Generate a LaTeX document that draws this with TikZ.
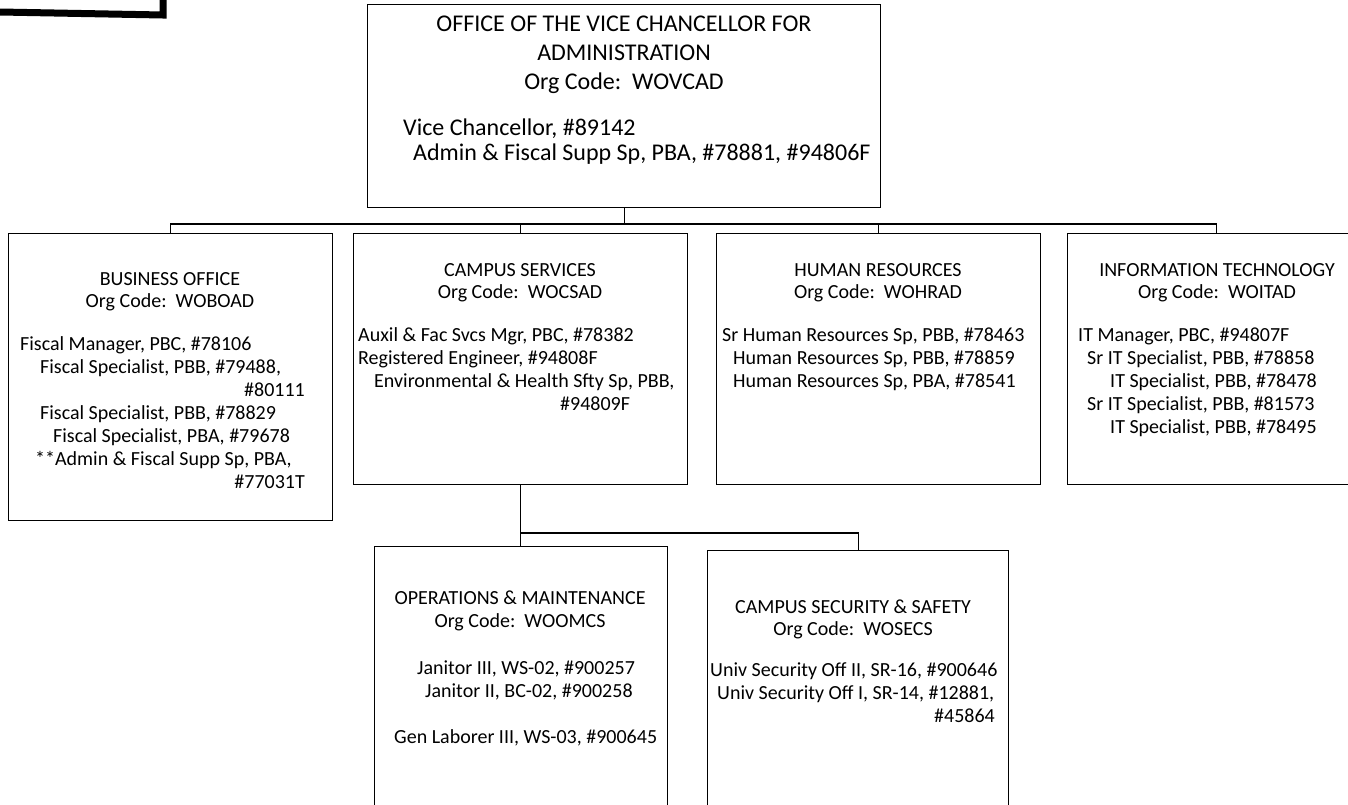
\documentclass[tikz,border=0pt]{standalone}
\usepackage{fontspec}
\setmainfont{Carlito}
\begin{document}
\begin{tikzpicture}[x=1pt,y=-1pt,
  box/.style={draw=black,line width=1.3pt,rectangle,inner sep=0pt,anchor=north west},
  conn/.style={draw=black,line width=1.3pt},
  txt/.style={inner sep=0pt,font=\fontsize{20}{23}\selectfont},
  ttxt/.style={inner sep=0pt,font=\fontsize{24}{28}\selectfont},
  lft/.style={anchor=base west},
  ctr/.style={anchor=base},
  rgt/.style={anchor=base east}]
\useasboundingbox (0,0) rectangle (1348,804);
\clip (0,0) rectangle (1348,804);
% scan artifact top-left
\draw[line width=7pt] (0,12) -- (163,15) -- (163,0);
% boxes
\node[box,minimum width=513pt,minimum height=203pt] (top) at (367,4) {};
\node[box,minimum width=324pt,minimum height=287pt] (bo) at (8,233) {};
\node[box,minimum width=334pt,minimum height=251pt] (cs) at (353,233) {};
\node[box,minimum width=324pt,minimum height=251pt] (hr) at (716,233) {};
\node[box,minimum width=298pt,minimum height=251pt] (it) at (1067,233) {};
\node[box,minimum width=293pt,minimum height=300pt] (om) at (374,546) {};
\node[box,minimum width=301pt,minimum height=300pt] (css) at (707,550) {};
% connectors
\coordinate (bus) at (0,224);
\coordinate (bus2) at (0,533);
\draw[conn] (top.south) -- (top.south |- bus);
\draw[conn] (bo.north) -- (bo.north |- bus) -- (it.north |- bus) -- (it.north);
\draw[conn] (cs.north) -- (cs.north |- bus);
\draw[conn] (hr.north) -- (hr.north |- bus);
\draw[conn] (cs.south) -- (cs.south |- om.north);
\draw[conn] (cs.south |- bus2) -- (css.north |- bus2) -- (css.north);
% top box text
\node[ttxt,ctr] (t1) at (624,31) {OFFICE OF THE VICE CHANCELLOR FOR};
\node[ttxt,ctr] (t2) at (624,60) {ADMINISTRATION};
\node[ttxt,ctr] (t3) at (624,89) {Org Code:\ \ WOVCAD};
\node[ttxt,lft] (t4) at (403,135) {Vice Chancellor, \#89142};
\node[ttxt,lft] (t5) at (413,160) {Admin \& Fiscal Supp Sp, PBA, \#78881, \#94806F};
% business office
\node[txt,ctr] (b1) at (170,285) {BUSINESS OFFICE};
\node[txt,ctr] (b2) at (170,307) {Org Code:\ \ WOBOAD};
\node[txt,lft] (b3) at (20,350) {Fiscal Manager, PBC, \#78106};
\node[txt,lft] (b4) at (40,373) {Fiscal Specialist, PBB, \#79488,};
\node[txt,rgt] (b5) at (305,396) {\#80111};
\node[txt,lft] (b6) at (40,419) {Fiscal Specialist, PBB, \#78829};
\node[txt,lft] (b7) at (53,442) {Fiscal Specialist, PBA, \#79678};
\node[txt,lft] (b8) at (35,465) {**Admin \& Fiscal Supp Sp, PBA,};
\node[txt,rgt] (b9) at (305,488) {\#77031T};
% campus services
\node[txt,ctr] (c1) at (520,276) {CAMPUS SERVICES};
\node[txt,ctr] (c2) at (520,298) {Org Code:\ \ WOCSAD};
\node[txt,lft] (c3) at (358,341) {Auxil \& Fac Svcs Mgr, PBC, \#78382};
\node[txt,lft] (c4) at (358,364) {Registered Engineer, \#94808F};
\node[txt,lft] (c5) at (374,387) {Environmental \& Health Sfty Sp, PBB,};
\node[txt,lft] (c6) at (560,410) {\#94809F};
% human resources
\node[txt,ctr] (h1) at (878,276) {HUMAN RESOURCES};
\node[txt,ctr] (h2) at (878,298) {Org Code:\ \ WOHRAD};
\node[txt,lft] (h3) at (722,341) {Sr Human Resources Sp, PBB, \#78463};
\node[txt,lft] (h4) at (733,364) {Human Resources Sp, PBB, \#78859};
\node[txt,lft] (h5) at (733,387) {Human Resources Sp, PBA, \#78541};
% information technology
\node[txt,ctr] (i1) at (1217,276) {INFORMATION TECHNOLOGY};
\node[txt,ctr] (i2) at (1217,298) {Org Code:\ \ WOITAD};
\node[txt,lft] (i3) at (1078,341) {IT Manager, PBC, \#94807F};
\node[txt,lft] (i4) at (1087,364) {Sr IT Specialist, PBB, \#78858};
\node[txt,lft] (i5) at (1110,387) {IT Specialist, PBB, \#78478};
\node[txt,lft] (i6) at (1087,410) {Sr IT Specialist, PBB, \#81573};
\node[txt,lft] (i7) at (1110,433) {IT Specialist, PBB, \#78495};
% operations & maintenance
\node[txt,ctr] (o1) at (520,604) {OPERATIONS \& MAINTENANCE};
\node[txt,ctr] (o2) at (520,627) {Org Code:\ \ WOOMCS};
\node[txt,lft] (o3) at (417,674) {Janitor III, WS-02, \#900257};
\node[txt,lft] (o4) at (425,697) {Janitor II, BC-02, \#900258};
\node[txt,lft] (o5) at (394,743) {Gen Laborer III, WS-03, \#900645};
% campus security & safety
\node[txt,ctr] (s1) at (853,613) {CAMPUS SECURITY \& SAFETY};
\node[txt,ctr] (s2) at (853,635) {Org Code:\ \ WOSECS};
\node[txt,lft] (s3) at (710,676) {Univ Security Off II, SR-16, \#900646};
\node[txt,lft] (s4) at (717,699) {Univ Security Off I, SR-14, \#12881,};
\node[txt,rgt] (s5) at (995,722) {\#45864};
\end{tikzpicture}
\end{document}
